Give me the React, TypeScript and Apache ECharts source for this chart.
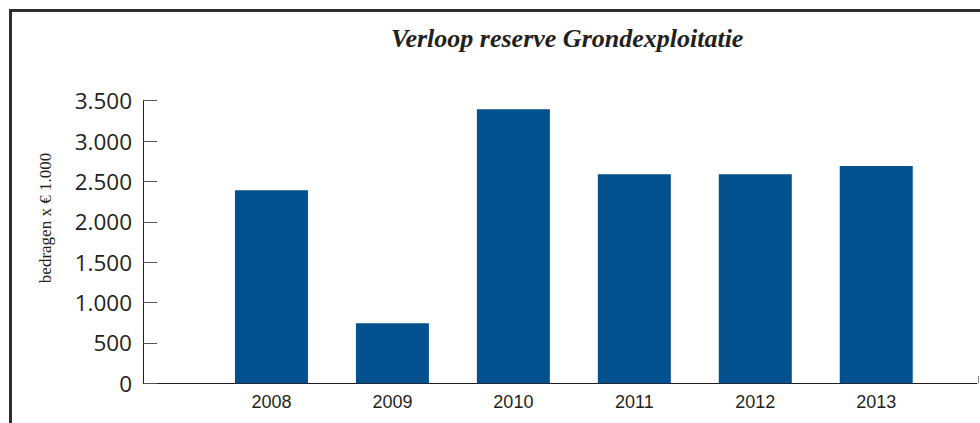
import React, { useEffect, useRef } from "react";
import * as echarts from "echarts";

const titleText = "Verloop reserve Grondexploitatie";
const yAxisTitle = "bedragen x € 1.000";
const years = [2008, 2009, 2010, 2011, 2012, 2013];
const reserve = [2390, 745, 3395, 2590, 2590, 2690];
const yTicks = { min: 0, max: 3500, interval: 500 };

const fmtThousands = (v: number) =>
  String(v).replace(/\B(?=(\d{3})+(?!\d))/g, ".");

export default function App() {
  const ref = useRef<HTMLDivElement>(null);
  useEffect(() => {
    if (!ref.current) return;
    const chart = echarts.init(ref.current, undefined, { renderer: "svg" });
    const ink = "#231f20";
    chart.setOption({
      animation: false,
      backgroundColor: "#ffffff",
      title: {
        text: titleText,
        left: 386,
        top: 20,
        textStyle: {
          fontFamily: "'Liberation Serif', 'Times New Roman', serif",
          fontStyle: "italic",
          fontWeight: "bold",
          fontSize: 26,
          color: ink,
        },
      },
      grid: { left: 143, right: 2, top: 100.7, bottom: 39.7, containLabel: false },
      xAxis: {
        type: "value",
        min: 2006.938,
        max: 2013.833,
        splitNumber: 7,
        axisLine: { show: true, lineStyle: { color: ink, width: 1 } },
        axisTick: { show: false },
        splitLine: { show: false },
        axisLabel: {
          margin: 10,
          fontFamily: "'Liberation Sans', Arial, sans-serif",
          fontSize: 18,
          color: ink,
          formatter: (v: number) => {
            const r = Math.round(v);
            return Math.abs(v - r) < 1e-6 && years.includes(r) ? String(r) : "";
          },
        },
      },
      yAxis: {
        type: "value",
        min: yTicks.min,
        max: yTicks.max,
        interval: yTicks.interval,
        axisLine: { show: true, lineStyle: { color: ink, width: 1 } },
        axisTick: { show: true, inside: true, length: 14, lineStyle: { color: "#555", width: 1 } },
        splitLine: { show: false },
        axisLabel: {
          margin: 11,
          fontFamily: "'Open Sans', 'Noto Sans', sans-serif",
          fontSize: 22.5,
          color: ink,
          formatter: (v: number) => fmtThousands(v),
        },
      },
      series: [
        {
          type: "bar",
          barWidth: 73,
          itemStyle: { color: "#02508e" },
          data: years.map((y, i) => [y, reserve[i]]),
        },
      ],
      graphic: [
        { type: "rect", shape: { x: 9, y: 9, width: 971, height: 3 }, style: { fill: "#2e2e2e" }, silent: true },
        { type: "rect", shape: { x: 9, y: 9, width: 3, height: 414 }, style: { fill: "#2e2e2e" }, silent: true },
        { type: "line", shape: { x1: 978.5, y1: 376, x2: 978.5, y2: 383 }, style: { stroke: "#888", lineWidth: 1 }, silent: true },
        {
          type: "text",
          x: 45,
          y: 218,
          rotation: Math.PI / 2,
          style: {
            text: yAxisTitle,
            font: "17px 'Liberation Serif', 'Times New Roman', serif",
            fill: ink,
            align: "center",
            verticalAlign: "middle",
          },
          silent: true,
        },
      ],
    });
    return () => chart.dispose();
  }, []);
  return (
    <div
      ref={ref}
      style={{ position: "fixed", left: 0, top: 0, width: 980, height: 423 }}
    />
  );
}
